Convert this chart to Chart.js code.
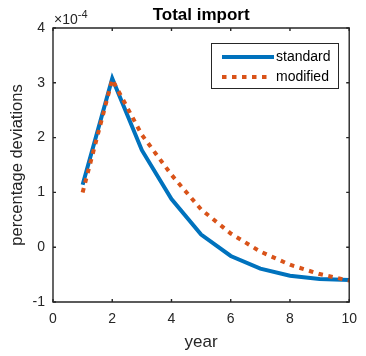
<!DOCTYPE html>
<html>
<head>
<meta charset="utf-8">
<script src="https://cdn.jsdelivr.net/npm/chart.js@4.4.1/dist/chart.umd.min.js"></script>
<style>
html,body{margin:0;padding:0;background:#fff;}
#wrap{width:366px;height:356px;position:relative;}
</style>
</head>
<body>
<div id="wrap"><canvas id="c" width="366" height="356"></canvas></div>
<script>
const years = [1, 2, 3, 4, 5, 6, 7, 8, 9, 10];
const standard = [1.14, 3.08, 1.77, 0.88, 0.23, -0.16, -0.39, -0.52, -0.58, -0.60];
const modified = [1.00, 3.06, 2.05, 1.32, 0.69, 0.25, -0.08, -0.32, -0.49, -0.61];
const xTicks = [0, 2, 4, 6, 8, 10];
const yTicks = [-1, 0, 1, 2, 3, 4];
const seriesNames = ['standard', 'modified'];
const chartTitle = 'Total import';
const xTitle = 'year';
const yTitle = 'percentage deviations';
const exponentBase = '\u00d710';
const exponentPower = '-4';

const FONT = '"Liberation Sans", Arial, Helvetica, sans-serif';
const AX = '#262626';
const BLUE = '#0072BD';
const ORANGE = '#D95319';

const framePlugin = {
  id: 'frame',
  afterDraw(chart) {
    const ctx = chart.ctx;
    const a = chart.chartArea;
    const xs = chart.scales.x, ys = chart.scales.y;
    ctx.save();
    // box
    ctx.strokeStyle = AX;
    ctx.lineWidth = 1.4;
    ctx.beginPath();
    ctx.rect(a.left, a.top, a.right - a.left, a.bottom - a.top);
    ctx.stroke();
    // inward ticks
    const tl = 3;
    ctx.beginPath();
    xTicks.forEach(v => {
      const px = xs.getPixelForValue(v);
      ctx.moveTo(px, a.bottom); ctx.lineTo(px, a.bottom - tl);
      ctx.moveTo(px, a.top); ctx.lineTo(px, a.top + tl);
    });
    yTicks.forEach(v => {
      const py = ys.getPixelForValue(v);
      ctx.moveTo(a.left, py); ctx.lineTo(a.left + tl, py);
      ctx.moveTo(a.right, py); ctx.lineTo(a.right - tl, py);
    });
    ctx.stroke();
    // title
    ctx.fillStyle = '#000';
    ctx.font = 'bold 17px ' + FONT;
    ctx.textAlign = 'center';
    ctx.textBaseline = 'alphabetic';
    ctx.fillText(chartTitle, (a.left + a.right) / 2, 19.5);
    // exponent
    ctx.fillStyle = AX;
    ctx.textAlign = 'left';
    ctx.font = '14px ' + FONT;
    ctx.fillText(exponentBase, a.left + 1, 24);
    const w = ctx.measureText(exponentBase).width;
    ctx.font = '11px ' + FONT;
    ctx.fillText(exponentPower, a.left + 1 + w, 17.5);
    // legend
    const lx = 211.5, ly = 43.5, lw = 127, lh = 45;
    ctx.fillStyle = '#fff';
    ctx.fillRect(lx, ly, lw, lh);
    ctx.strokeStyle = AX;
    ctx.lineWidth = 1;
    ctx.strokeRect(lx, ly, lw, lh);
    ctx.lineWidth = 4;
    ctx.lineCap = 'butt';
    ctx.strokeStyle = BLUE;
    ctx.beginPath(); ctx.moveTo(222, 57); ctx.lineTo(274, 57); ctx.stroke();
    ctx.strokeStyle = ORANGE;
    ctx.setLineDash([4.5, 5.5]);
    ctx.beginPath(); ctx.moveTo(222, 77); ctx.lineTo(267, 77); ctx.stroke();
    ctx.setLineDash([]);
    ctx.fillStyle = '#000';
    ctx.font = '14px ' + FONT;
    ctx.textBaseline = 'middle';
    ctx.fillText(seriesNames[0], 276, 57);
    ctx.fillText(seriesNames[1], 276, 77);
    ctx.restore();
  }
};

new Chart(document.getElementById('c'), {
  type: 'line',
  data: {
    datasets: [
      {
        label: seriesNames[0],
        data: years.map((x, i) => ({x, y: standard[i]})),
        borderColor: BLUE, borderWidth: 4, pointRadius: 0, tension: 0, fill: false,
        borderCapStyle: 'butt', borderJoinStyle: 'miter', order: 1
      },
      {
        label: seriesNames[1],
        data: years.map((x, i) => ({x, y: modified[i]})),
        borderColor: ORANGE, borderWidth: 4, pointRadius: 0, tension: 0, fill: false,
        borderDash: [4.5, 5.5], borderCapStyle: 'butt', order: 0
      }
    ]
  },
  options: {
    responsive: false,
    animation: false,
    devicePixelRatio: 1,
    layout: { padding: { top: 28, right: 12, left: 0, bottom: 0 } },
    plugins: { legend: { display: false }, title: { display: false }, tooltip: { enabled: false } },
    scales: {
      x: {
        type: 'linear', min: 0, max: 10,
        afterBuildTicks: s => { s.ticks = xTicks.map(v => ({value: v})); },
        afterFit: s => { s.height = 54; },
        grid: { display: false, drawTicks: false },
        border: { display: false },
        ticks: { color: AX, font: { family: FONT, size: 14 }, padding: 9, maxRotation: 0 },
        title: { display: true, text: xTitle, color: AX, font: { family: FONT, size: 17 }, padding: { top: 4, bottom: 3 } }
      },
      y: {
        type: 'linear', min: -1, max: 4,
        afterBuildTicks: s => { s.ticks = yTicks.map(v => ({value: v})); },
        afterFit: s => { s.width = 53; },
        grid: { display: false, drawTicks: false },
        border: { display: false },
        ticks: { color: AX, font: { family: FONT, size: 14 }, padding: 8 },
        title: { display: true, text: yTitle, color: AX, font: { family: FONT, size: 16.5 }, padding: { top: 8, bottom: 0 } }
      }
    }
  },
  plugins: [framePlugin]
});
</script>
</body>
</html>
